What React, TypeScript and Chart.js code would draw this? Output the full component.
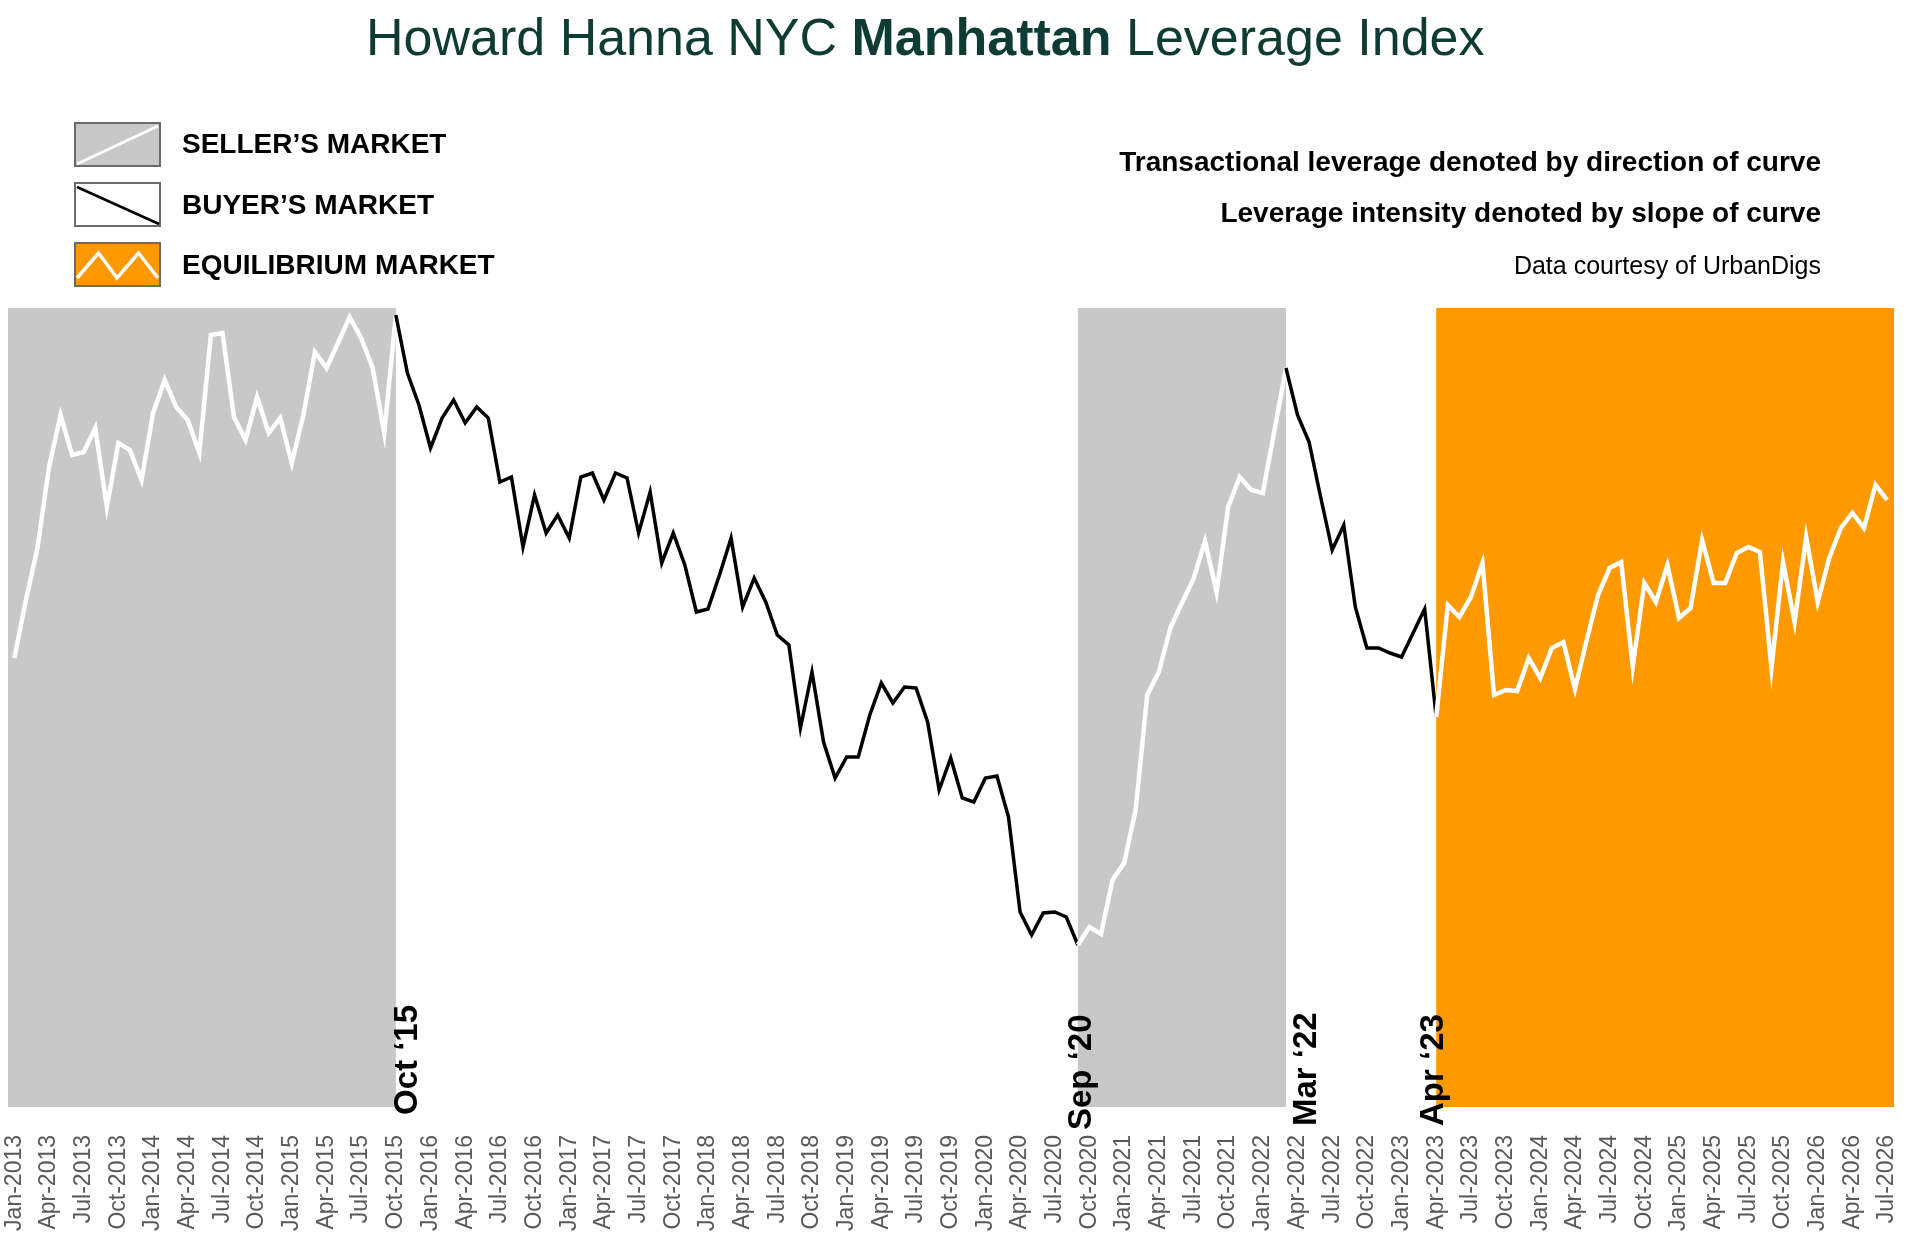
import { useEffect, useRef } from "react";
import { Chart, registerables } from "chart.js";

Chart.register(...registerables);

// Monthly leverage index, Jan-2013 .. Jul-2026 (unitless)
const leverage = [
  457, 515, 567, 648, 700, 660, 663, 687, 608, 672, 665, 635,
  702, 735, 708, 695, 662, 780, 782, 698, 675, 718, 682, 697,
  652, 700, 763, 747, 772, 798, 777, 747, 682, 800, 742, 710,
  667, 697, 715, 692, 708, 697, 633, 638, 568, 620, 582, 600,
  577, 638, 642, 615, 642, 637, 582, 623, 552, 582, 550, 503,
  506, 540, 577, 508, 537, 513, 480, 470, 387, 443, 373, 337,
  358, 358, 400, 432, 412, 428, 427, 393, 325, 357, 317, 313,
  337, 339, 298, 203, 180, 202, 203, 198, 170, 188, 181, 235,
  252, 305, 420, 443, 487, 512, 536, 574, 523, 608, 638, 625,
  622, 684, 747, 700, 673, 618, 565, 590, 508, 467, 467, 462,
  458, 482, 506, 398, 510, 498, 518, 552, 420, 425, 424, 457,
  437, 467, 473, 426, 474, 520, 547, 553, 448, 532, 513, 550,
  497, 507, 575, 532, 532, 562, 568, 563, 447, 553, 493, 578,
  513, 557, 587, 602, 587, 630, 615,
];

const MONTHS = ["Jan", "Feb", "Mar", "Apr", "May", "Jun", "Jul", "Aug", "Sep", "Oct", "Nov", "Dec"];
const FIRST_YEAR = 2013;
const monthLabels = leverage.map((_, i) => `${MONTHS[i % 12]}-${FIRST_YEAR + Math.floor(i / 12)}`);
const tickMonths = monthLabels.filter((_, i) => i % 3 === 0);

// market phases
const phaseNames = ["seller", "buyer", "seller", "buyer", "equilibrium"];
const phaseStarts = ["Jan-2013", "Oct-2015", "Sep-2020", "Mar-2022", "Apr-2023"];
const phaseEnds = ["Oct-2015", "Sep-2020", "Mar-2022", "Apr-2023", "Jul-2026"];

// turning points
const markerLabels = ["Oct \u201815", "Sep \u201820", "Mar \u201822", "Apr \u201823"];
const markerMonths = ["Oct-2015", "Sep-2020", "Mar-2022", "Apr-2023"];

const FONT = '"Liberation Sans", Arial, Helvetica, sans-serif';
const GREEN = "#0e3b32";
const PHASE_FILL: Record<string, string | null> = { seller: "#c8c8c8", buyer: null, equilibrium: "#ff9900" };
const PHASE_LINE: Record<string, string> = { seller: "#ffffff", buyer: "#000000", equilibrium: "#ffffff" };
const PHASE_WIDTH: Record<string, number> = { seller: 4.5, buyer: 3.5, equilibrium: 4.5 };
// hand placement of the turning point labels (px from tick / below plot)
const MARKER_NUDGE = [
  { dx: -3, below: 8 },
  { dx: -11, below: 23 },
  { dx: 6, below: 19 },
  { dx: -18, below: 19 },
];

const idx = (label: string) => monthLabels.indexOf(label);

function phaseAt(i: number) {
  for (let p = 0; p < phaseNames.length; p++) {
    if (i >= idx(phaseStarts[p]) && i < idx(phaseEnds[p])) return phaseNames[p];
  }
  return phaseNames[phaseNames.length - 1];
}

const phaseBands = {
  id: "phaseBands",
  beforeDatasetsDraw(chart: any) {
    const { ctx, chartArea, scales } = chart;
    const x = scales.x;
    const last = leverage.length - 1;
    phaseNames.forEach((name, p) => {
      const fill = PHASE_FILL[name];
      if (!fill) return;
      const s = idx(phaseStarts[p]);
      const e = idx(phaseEnds[p]);
      const left = s === 0 ? chartArea.left : x.getPixelForValue(s);
      const right = e === last ? chartArea.right : x.getPixelForValue(e);
      ctx.save();
      ctx.fillStyle = fill;
      ctx.fillRect(left, chartArea.top, right - left, chartArea.bottom - chartArea.top);
      ctx.restore();
    });
  },
};

const turningLabels = {
  id: "turningLabels",
  afterDatasetsDraw(chart: any) {
    const { ctx, chartArea, scales } = chart;
    const size = 33;
    markerMonths.forEach((m, k) => {
      const nudge = MARKER_NUDGE[k];
      const px = scales.x.getPixelForValue(idx(m)) + nudge.dx;
      ctx.save();
      ctx.translate(px, chartArea.bottom + nudge.below);
      ctx.rotate(-Math.PI / 2);
      ctx.font = `bold ${size}px ${FONT}`;
      ctx.fillStyle = "#000";
      ctx.textAlign = "left";
      ctx.textBaseline = "alphabetic";
      ctx.fillText(markerLabels[k], 0, size * 0.74);
      ctx.restore();
    });
  },
};

function LegendIcon({ kind }: { kind: string }) {
  const fill = kind === "buyer" ? "#ffffff" : (PHASE_FILL[kind] as string);
  return (
    <svg width={87} height={45} style={{ display: "block" }}>
      <rect x={1} y={1} width={85} height={43} fill={fill} stroke="#6a6a6a" strokeWidth={2} />
      {kind === "seller" && <line x1={3} y1={42} x2={84} y2={4} stroke="#fff" strokeWidth={3} />}
      {kind === "buyer" && <line x1={3} y1={5} x2={85} y2={42} stroke="#000" strokeWidth={2.5} />}
      {kind === "equilibrium" && (
        <polyline points="3,36 24.5,11 43,36 64.5,11 84,36" fill="none" stroke="#fff" strokeWidth={3.5} />
      )}
    </svg>
  );
}

const legendRows = [
  { kind: "seller", text: "SELLER\u2019S MARKET", top: 122, textTop: 130 },
  { kind: "buyer", text: "BUYER\u2019S MARKET", top: 182, textTop: 191 },
  { kind: "equilibrium", text: "EQUILIBRIUM MARKET", top: 242, textTop: 251 },
];

export default function App() {
  const canvasRef = useRef<HTMLCanvasElement>(null);

  useEffect(() => {
    if (!canvasRef.current) return;
    const chart = new Chart(canvasRef.current, {
      type: "line",
      data: {
        datasets: [
          {
            label: "Leverage Index",
            data: leverage.map((v, i) => ({ x: i, y: v })),
            borderColor: "#000",
            borderWidth: 3.5,
            pointRadius: 0,
            tension: 0,
            fill: false,
            borderJoinStyle: "miter",
            segment: {
              borderColor: (c: any) => PHASE_LINE[phaseAt(c.p0DataIndex)],
              borderWidth: (c: any) => PHASE_WIDTH[phaseAt(c.p0DataIndex)],
            },
          } as any,
        ],
      },
      options: {
        responsive: false,
        animation: false,
        layout: { padding: { top: 308, left: 8, right: 26, bottom: 0 } },
        plugins: { legend: { display: false }, tooltip: { enabled: false } },
        scales: {
          x: {
            type: "linear",
            min: -0.55,
            max: 162.6,
            grid: { display: false, drawTicks: false },
            border: { display: false },
            afterBuildTicks: (scale: any) => {
              scale.ticks = tickMonths.map((m) => ({ value: idx(m) }));
            },
            afterFit: (scale: any) => {
              scale.height = 140;
              scale.paddingLeft = 0;
              scale.paddingRight = 0;
            },
            ticks: {
              autoSkip: false,
              maxRotation: 90,
              minRotation: 90,
              padding: 28,
              color: "#595959",
              font: { family: FONT, size: 23 },
              callback: (value: any) => monthLabels[Math.round(Number(value))],
            },
          },
          y: {
            display: false,
            min: 8,
            max: 807,
          },
        },
      },
      plugins: [phaseBands, turningLabels],
    });
    return () => chart.destroy();
  }, []);

  return (
    <div
      style={{
        position: "absolute",
        left: 0,
        top: 0,
        width: 1920,
        height: 1247,
        overflow: "hidden",
        background: "#fff",
        fontFamily: FONT,
      }}
    >
      <canvas ref={canvasRef} width={1920} height={1247} style={{ position: "absolute", left: 0, top: 0 }} />

      <div
        style={{
          position: "absolute",
          left: 366,
          top: 11,
          fontSize: 52,
          lineHeight: "52px",
          color: GREEN,
          whiteSpace: "nowrap",
        }}
      >
        Howard Hanna NYC <b>Manhattan</b> Leverage Index
      </div>

      {legendRows.map((r) => (
        <div key={r.kind}>
          <div style={{ position: "absolute", left: 74, top: r.top }}>
            <LegendIcon kind={r.kind} />
          </div>
          <div
            style={{
              position: "absolute",
              left: 182,
              top: r.textTop,
              fontSize: 28,
              lineHeight: "28px",
              fontWeight: "bold",
              color: "#000",
              whiteSpace: "nowrap",
            }}
          >
            {r.text}
          </div>
        </div>
      ))}

      <div
        style={{
          position: "absolute",
          right: 99,
          top: 148,
          fontSize: 28,
          lineHeight: "28px",
          fontWeight: "bold",
          whiteSpace: "nowrap",
          textAlign: "right",
        }}
      >
        Transactional leverage denoted by direction of curve
      </div>
      <div
        style={{
          position: "absolute",
          right: 99,
          top: 199,
          fontSize: 28,
          lineHeight: "28px",
          fontWeight: "bold",
          whiteSpace: "nowrap",
          textAlign: "right",
        }}
      >
        Leverage intensity denoted by slope of curve
      </div>
      <div
        style={{
          position: "absolute",
          right: 99,
          top: 253,
          fontSize: 25,
          lineHeight: "25px",
          whiteSpace: "nowrap",
          textAlign: "right",
        }}
      >
        Data courtesy of UrbanDigs
      </div>
    </div>
  );
}
